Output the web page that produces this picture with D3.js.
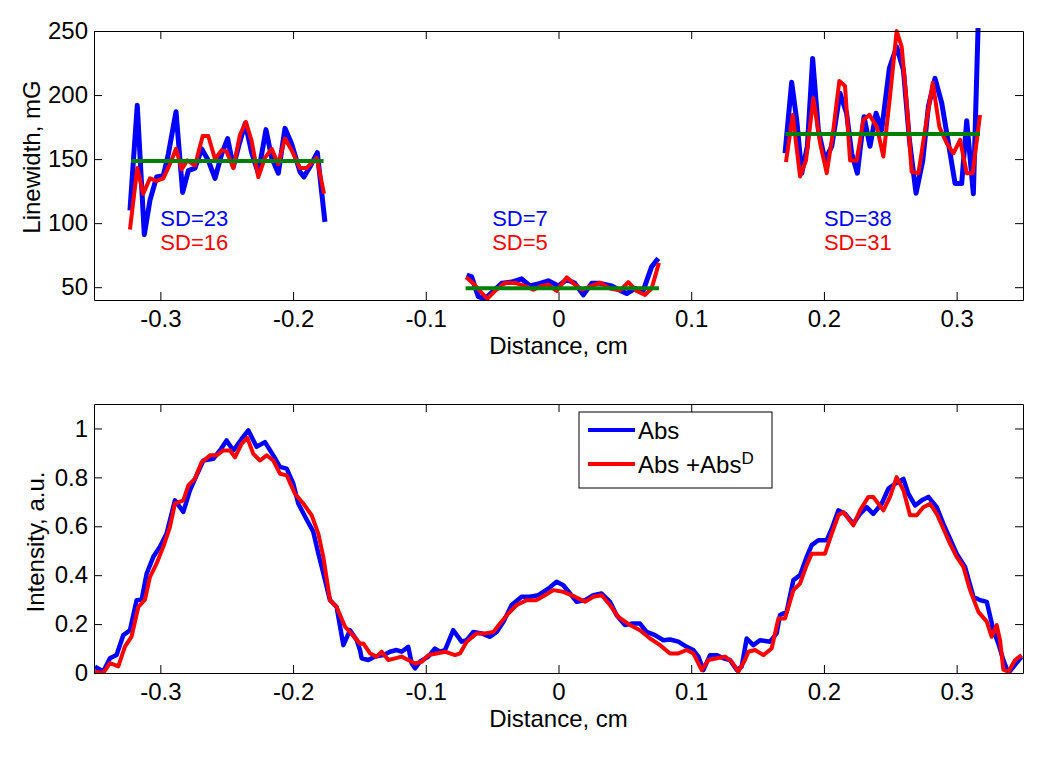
<!DOCTYPE html>
<html><head><meta charset="utf-8">
<script src="https://cdn.jsdelivr.net/npm/d3@7"></script>
<style>body{margin:0;background:#fff} text{font-family:"Liberation Sans",Arial,Helvetica,sans-serif}</style>
</head><body><svg id="c" width="1050" height="760"></svg>
<script>
// ---------- shared axis ----------
const xTicks = [-0.3,-0.2,-0.1,0,0.1,0.2,0.3];
const xTickLabels = ["-0.3","-0.2","-0.1","0","0.1","0.2","0.3"];
const xLabel = "Distance, cm";

// ---------- top panel: linewidth ----------
const topYTicks = [50,100,150,200,250];
const topYLabel = "Linewidth, mG";

const leftBlueX = [-0.3229,-0.3174,-0.3121,-0.3078,-0.3028,-0.2978,-0.2940,-0.2882,-0.2832,-0.2789,-0.2739,-0.2689,-0.2639,-0.2588,-0.2538,-0.2493,-0.2450,-0.2405,-0.2360,-0.2312,-0.2262,-0.2204,-0.2161,-0.2111,-0.2061,-0.2011,-0.1948,-0.1918,-0.1873,-0.1817,-0.1760];
const leftBlueY = [110,192,91,118,136,137,154,187,124,141,143,158,149,135,154,166,144,162,178,155,139,173,151,139,174,162,140,136,144,155,101];
const leftRedX = [-0.3229,-0.3174,-0.3129,-0.3078,-0.3028,-0.2978,-0.2928,-0.2882,-0.2840,-0.2797,-0.2739,-0.2681,-0.2639,-0.2588,-0.2538,-0.2501,-0.2450,-0.2400,-0.2355,-0.2312,-0.2262,-0.2212,-0.2161,-0.2111,-0.2061,-0.2011,-0.1948,-0.1898,-0.1822,-0.1767];
const leftRedY = [95,143,123,135,133,135,146,158,142,149,145,168,168,150,157,156,143,169,179,164,136,151,158,146,166,157,143,143,151,123];

const midBlueX = [-0.0692,-0.0654,-0.0604,-0.0554,-0.0491,-0.0428,-0.0353,-0.0278,-0.0215,-0.0139,-0.0077,-0.0001,0.0062,0.0124,0.0187,0.0250,0.0313,0.0401,0.0464,0.0514,0.0577,0.0639,0.0702,0.0752];
const midBlueY = [59.5,58,42.6,41,47,53,54,56.5,51,53,55,51,56,53,44,53,53,51,47.5,45,49,47.5,66,72.5];
const midRedX = [-0.0697,-0.0642,-0.0592,-0.0536,-0.0479,-0.0403,-0.0315,-0.0240,-0.0190,-0.0127,-0.0077,-0.0014,0.0062,0.0112,0.0175,0.0237,0.0313,0.0388,0.0464,0.0526,0.0589,0.0652,0.0702,0.0757];
const midRedY = [57.7,53,47,41,47,53.5,53,50.5,48,51,52,47,57.7,53,48,50.5,53.5,49,47.5,54,47,44,49,69];

const rightBlueX = [0.1707,0.1757,0.1795,0.1833,0.1875,0.1915,0.1958,0.2008,0.2059,0.2121,0.2171,0.2209,0.2252,0.2302,0.2347,0.2393,0.2435,0.2493,0.2548,0.2599,0.2644,0.2694,0.2745,0.2787,0.2837,0.2888,0.2938,0.2988,0.3038,0.3076,0.3126,0.3164];
const rightBlueY = [154.5,210,180.5,139,160,228.6,172.7,149,160,201.4,185.8,154.5,139,183,160,185.8,172.7,220.8,237.7,219.5,165,123.3,149,191,213,193.6,162.5,131,131,180,123,262];
const rightRedX = [0.1714,0.1765,0.1820,0.1865,0.1920,0.1971,0.2021,0.2071,0.2116,0.2159,0.2197,0.2247,0.2297,0.2343,0.2398,0.2448,0.2498,0.2548,0.2586,0.2624,0.2661,0.2712,0.2762,0.2820,0.2870,0.2925,0.2976,0.3026,0.3076,0.3121,0.3176];
const rightRedY = [147.7,184.5,136.4,149,197.5,162.5,139,172.7,211,207,149,149,180.5,184.5,175.3,152,199,250,237.7,193.6,140,139,172.7,209.6,175,162.5,154.5,165,139,139,184.5];

// mean lines (green): [xStart, xEnd, value]
const meanLines = [[-0.322,-0.177,148.5],[-0.070,0.0757,49.2],[0.171,0.3176,169.5]];
// SD annotations
const sdX = [-0.30, -0.05, 0.20];
const sdBlue = ["SD=23","SD=7","SD=38"];
const sdRed = ["SD=16","SD=5","SD=31"];
const sdBlueVal = [98, 98, 98];
const sdRedVal = [79, 79, 79];

// ---------- bottom panel: intensity ----------
const botYTicks = [0,0.2,0.4,0.6,0.8,1];
const botYTickLabels = ["0","0.2","0.4","0.6","0.8","1"];
const botYLabel = "Intensity, a.u.";
const legendLabels = ["Abs","Abs +Abs"];
const legendSup = "D";

const absX = [-0.3493,-0.3430,-0.3380,-0.3330,-0.3279,-0.3229,-0.3179,-0.3141,-0.3103,-0.3053,-0.3003,-0.2953,-0.2890,-0.2827,-0.2777,-0.2727,-0.2676,-0.2601,-0.2551,-0.2501,-0.2450,-0.2388,-0.2337,-0.2275,-0.2212,-0.2149,-0.2099,-0.2048,-0.1998,-0.1961,-0.1910,-0.1848,-0.1810,-0.1772,-0.1722,-0.1672,-0.1621,-0.1571,-0.1521,-0.1496,
 -0.1483,-0.1433,-0.1383,-0.1320,-0.1270,-0.1220,-0.1182,-0.1132,-0.1106,-0.1081,-0.1044,-0.0981,-0.0931,-0.0893,-0.0855,-0.0793,-0.0730,-0.0692,-0.0642,-0.0579,-0.0516,-0.0466,-0.0416,-0.0353,-0.0278,-0.0215,-0.0152,-0.0077,-0.0014,0.0036,0.0087,0.0137,0.0200,0.0262,0.0325,0.0388,0.0438,0.0501,0.0551,0.0614,0.0664,0.0727,0.0790,0.0840,0.0903,0.0966,0.1016,0.1054,0.1091,0.1142,0.1192,0.1242,0.1292,0.1343,0.1380,
 0.1418,0.1468,0.1518,0.1594,0.1644,0.1669,0.1719,0.1770,0.1820,0.1870,0.1908,0.1958,0.2021,0.2059,0.2109,0.2159,0.2222,0.2272,0.2322,0.2372,0.2435,0.2486,0.2536,0.2599,0.2636,0.2687,0.2737,0.2787,0.2850,0.2900,0.2950,0.3000,0.3063,0.3126,0.3176,0.3227,0.3277,0.3314,0.3352,0.3390,0.3440,0.3490];
const absY = [0.026,0.006,0.06,0.074,0.155,0.175,0.298,0.30,0.407,0.475,0.516,0.57,0.706,0.659,0.747,0.808,0.869,0.876,0.91,0.951,0.91,0.957,0.992,0.925,0.944,0.89,0.843,0.836,0.774,0.693,0.64,0.578,0.49,0.408,0.298,0.27,0.114,0.175,0.135,0.094,
 0.06,0.053,0.067,0.073,0.087,0.094,0.087,0.107,0.039,0.019,0.046,0.067,0.1,0.087,0.094,0.175,0.128,0.134,0.168,0.162,0.148,0.168,0.209,0.278,0.312,0.312,0.318,0.345,0.373,0.359,0.325,0.291,0.298,0.318,0.325,0.291,0.236,0.196,0.202,0.202,0.168,0.155,0.134,0.137,0.128,0.107,0.094,0.067,0.012,0.073,0.073,0.06,0.053,0.012,0.026,
 0.141,0.114,0.134,0.128,0.162,0.237,0.25,0.38,0.40,0.475,0.523,0.543,0.543,0.59,0.665,0.651,0.61,0.651,0.678,0.651,0.692,0.754,0.774,0.794,0.733,0.685,0.706,0.72,0.678,0.61,0.549,0.488,0.434,0.312,0.298,0.291,0.175,0.121,0.053,0,0.033,0.067];

const absDX = [-0.3493,-0.3430,-0.3380,-0.3317,-0.3267,-0.3217,-0.3166,-0.3116,-0.3078,-0.3028,-0.2978,-0.2928,-0.2890,-0.2827,-0.2789,-0.2739,-0.2689,-0.2626,-0.2576,-0.2526,-0.2475,-0.2438,-0.2388,-0.2345,-0.2300,-0.2249,-0.2199,-0.2149,-0.2099,-0.2048,-0.1986,-0.1923,-0.1860,-0.1810,-0.1772,-0.1722,-0.1672,-0.1609,-0.1559,-0.1496,
 -0.1471,-0.1420,-0.1370,-0.1333,-0.1282,-0.1232,-0.1182,-0.1132,-0.1081,-0.1031,-0.0981,-0.0918,-0.0855,-0.0780,-0.0742,-0.0692,-0.0617,-0.0554,-0.0491,-0.0441,-0.0378,-0.0315,-0.0240,-0.0165,-0.0102,-0.0039,0.0036,0.0124,0.0200,0.0262,0.0325,0.0388,0.0451,0.0539,0.0614,0.0690,0.0765,0.0840,0.0903,0.0966,0.1016,0.1079,0.1129,0.1192,0.1255,0.1305,0.1355,0.1405,
 0.1431,0.1481,0.1544,0.1606,0.1657,0.1707,0.1770,0.1820,0.1870,0.1908,0.1971,0.2008,0.2059,0.2109,0.2146,0.2222,0.2272,0.2335,0.2372,0.2448,0.2498,0.2548,0.2599,0.2649,0.2699,0.2749,0.2800,0.2850,0.2900,0.2950,0.3000,0.3051,0.3101,0.3164,0.3227,0.3264,0.3302,0.3327,0.3352,0.3390,0.3440,0.3490];
const absDY = [0.005,0,0.04,0.027,0.108,0.149,0.27,0.30,0.393,0.448,0.516,0.597,0.693,0.706,0.767,0.795,0.862,0.89,0.89,0.91,0.91,0.882,0.937,0.962,0.896,0.869,0.89,0.869,0.815,0.808,0.733,0.693,0.645,0.57,0.475,0.298,0.27,0.19,0.16,0.12,
 0.121,0.08,0.067,0.087,0.053,0.06,0.067,0.053,0.039,0.046,0.073,0.08,0.087,0.073,0.08,0.128,0.162,0.162,0.168,0.202,0.243,0.278,0.298,0.298,0.318,0.339,0.332,0.312,0.291,0.312,0.318,0.278,0.229,0.196,0.175,0.141,0.114,0.08,0.08,0.094,0.08,0.012,0.053,0.06,0.067,0.046,0.005,0.053,
 0.087,0.094,0.073,0.1,0.223,0.223,0.339,0.366,0.441,0.488,0.488,0.488,0.57,0.645,0.658,0.604,0.665,0.72,0.72,0.665,0.72,0.801,0.747,0.645,0.645,0.678,0.692,0.651,0.59,0.529,0.475,0.434,0.339,0.25,0.21,0.148,0.196,0.134,0.014,0.005,0.053,0.073];

// ---------- drawing ----------
const BLUE="#0000ff", RED="#ff0000", GREEN="#008000";
const svg = d3.select("#c");
svg.append("rect").attr("width",1050).attr("height",760).attr("fill","#fff");

const L=94, R=1023;
const x = d3.scaleLinear().domain([-0.35,0.35]).range([L,R]);

function drawFrame(g, y, top, bottom, yTicks, yFmt){
  const ax = (sel)=>sel.attr("font-size",24).attr("font-family","Liberation Sans, Arial, sans-serif");
  g.append("g").attr("transform",`translate(0,${bottom})`)
    .call(d3.axisBottom(x).tickValues(xTicks).tickFormat((d,i)=>xTickLabels[i]).tickSizeInner(-8).tickSizeOuter(0).tickPadding(10))
    .call(ax);
  g.append("g").attr("transform",`translate(0,${top})`)
    .call(d3.axisTop(x).tickValues(xTicks).tickFormat("").tickSizeInner(-8).tickSizeOuter(0));
  g.append("g").attr("transform",`translate(${L},0)`)
    .call(d3.axisLeft(y).tickValues(yTicks).tickFormat(yFmt).tickSizeInner(-8).tickSizeOuter(0).tickPadding(6))
    .call(ax);
  g.append("g").attr("transform",`translate(${R},0)`)
    .call(d3.axisRight(y).tickValues(yTicks).tickFormat("").tickSizeInner(-8).tickSizeOuter(0));
  g.selectAll(".domain, .tick line").attr("stroke","#000").attr("stroke-width",1);
  g.selectAll(".tick text").attr("fill","#000");
}

function addClip(id, top, bottom){
  svg.append("clipPath").attr("id",id).append("rect")
    .attr("x",L).attr("y",top-3).attr("width",R-L).attr("height",bottom-top+3);
}

function line(y){ return d3.line().x(d=>x(d[0])).y(d=>y(d[1])); }
function zip(a,b){ return a.map((v,i)=>[v,b[i]]); }

// top panel
const tTop=31, tBot=300;
const yT = d3.scaleLinear().domain([40,250]).range([tBot,tTop]);
addClip("clipT", tTop, tBot);
const gT = svg.append("g");
const dT = gT.append("g").attr("clip-path","url(#clipT)");
const lT = line(yT);
[[leftBlueX,leftBlueY],[midBlueX,midBlueY],[rightBlueX,rightBlueY]].forEach(([a,b])=>{
  dT.append("path").attr("d",lT(zip(a,b))).attr("fill","none").attr("stroke",BLUE).attr("stroke-width",5).attr("stroke-linejoin","round");
});
[[leftRedX,leftRedY],[midRedX,midRedY],[rightRedX,rightRedY]].forEach(([a,b])=>{
  dT.append("path").attr("d",lT(zip(a,b))).attr("fill","none").attr("stroke",RED).attr("stroke-width",4).attr("stroke-linejoin","round");
});
meanLines.forEach(m=>{
  dT.append("path").attr("d",lT([[m[0],m[2]],[m[1],m[2]]])).attr("fill","none").attr("stroke",GREEN).attr("stroke-width",4);
});
sdX.forEach((sx,i)=>{
  gT.append("text").attr("x",x(sx)).attr("y",yT(sdBlueVal[i])).attr("font-size",22).attr("fill",BLUE).text(sdBlue[i]);
  gT.append("text").attr("x",x(sx)).attr("y",yT(sdRedVal[i])).attr("font-size",22).attr("fill",RED).text(sdRed[i]);
});
drawFrame(gT, yT, tTop, tBot, topYTicks, d=>String(d));
gT.append("text").attr("x",(L+R)/2).attr("y",354).attr("text-anchor","middle").attr("font-size",24).text(xLabel);
gT.append("text").attr("transform",`translate(40,157) rotate(-90)`).attr("text-anchor","middle").attr("font-size",24).text(topYLabel);

// bottom panel
const bTop=404, bBot=673;
const yB = d3.scaleLinear().domain([0,1.1]).range([bBot,bTop]);
addClip("clipB", bTop, bBot);
const gB = svg.append("g");
const dB = gB.append("g").attr("clip-path","url(#clipB)");
const lB = line(yB);
dB.append("path").attr("d",lB(zip(absX,absY))).attr("fill","none").attr("stroke",BLUE).attr("stroke-width",4.5).attr("stroke-linejoin","round");
dB.append("path").attr("d",lB(zip(absDX,absDY))).attr("fill","none").attr("stroke",RED).attr("stroke-width",4).attr("stroke-linejoin","round");
drawFrame(gB, yB, bTop, bBot, botYTicks, (d,i)=>botYTickLabels[i]);
gB.append("text").attr("x",(L+R)/2).attr("y",727).attr("text-anchor","middle").attr("font-size",24).text(xLabel);
gB.append("text").attr("transform",`translate(44,542) rotate(-90)`).attr("text-anchor","middle").attr("font-size",24).text(botYLabel);

// legend
const lg = gB.append("g");
lg.append("rect").attr("x",579).attr("y",412).attr("width",193).attr("height",76).attr("fill","#fff").attr("stroke","#000").attr("stroke-width",1);
[BLUE,RED].forEach((c,i)=>{
  const yy = 430 + i*34;
  lg.append("line").attr("x1",588).attr("x2",635).attr("y1",yy).attr("y2",yy).attr("stroke",c).attr("stroke-width",4);
  const t = lg.append("text").attr("x",638).attr("y",yy+9).attr("font-size",24).attr("fill","#000").text(legendLabels[i]);
  if(i===1){ t.append("tspan").attr("font-size",17).attr("dy",-9).text(legendSup); }
});
</script></body></html>
